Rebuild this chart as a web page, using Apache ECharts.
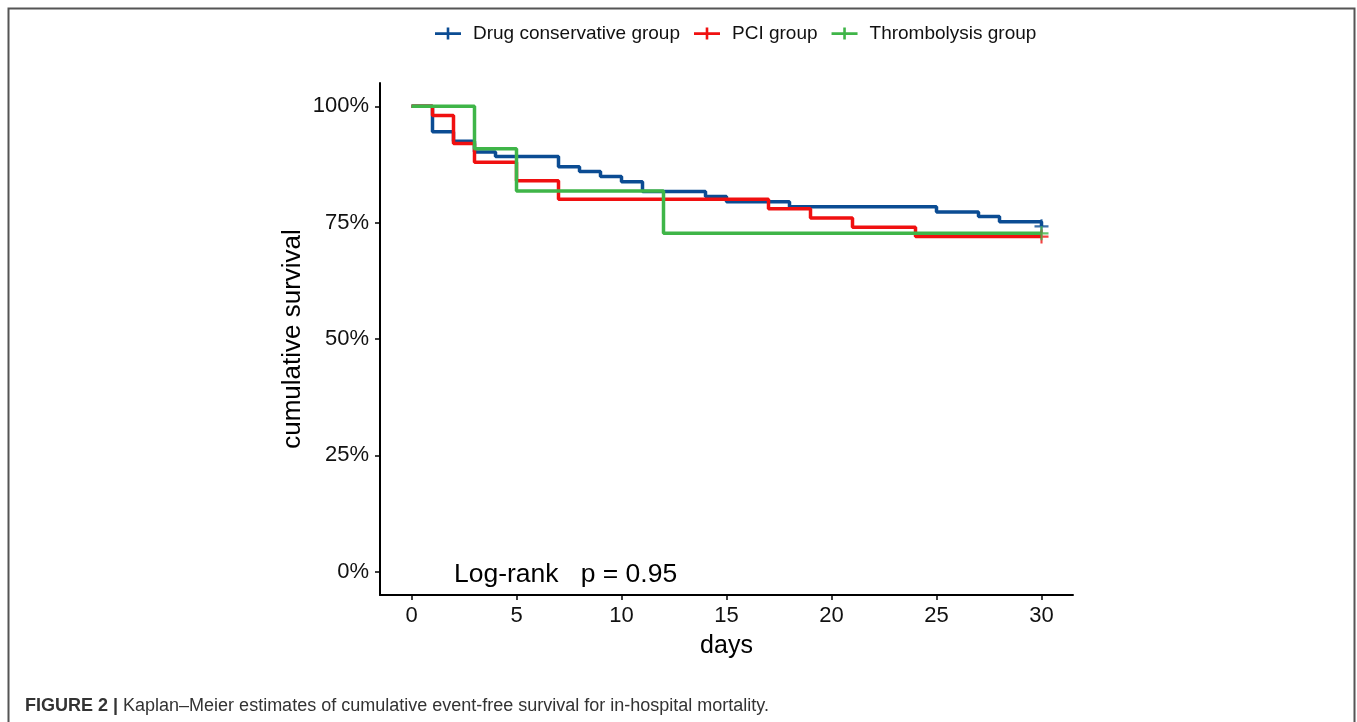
<!DOCTYPE html>
<html>
<head>
<meta charset="utf-8">
<script src="https://cdn.jsdelivr.net/npm/echarts@6/dist/echarts.min.js"></script>
<style>
  html, body { margin: 0; padding: 0; background: #fff; }
  #main { width: 1357px; height: 722px; }
</style>
</head>
<body>
<div id="main"></div>
<script>
// step data: [day, survival %]
const drugData = [
  [0, 100], [1, 94.5], [2, 92.5], [3, 90.2], [4, 89.2], [7, 87.0], [8, 86.0],
  [9, 84.9], [10, 83.8], [11, 81.7], [14, 80.6], [15, 79.5], [18, 78.4],
  [25, 77.3], [27, 76.3], [28, 75.2], [30, 74.2]
];
const pciData = [
  [0, 100], [1, 98], [2, 92], [3, 88], [5, 84], [7, 80], [17, 78], [19, 76],
  [21, 74], [24, 72], [30, 72]
];
const thrombData = [
  [0, 100], [3, 90.9], [5, 81.8], [12, 72.7], [30, 72.7]
];
// censor marks at the end of follow-up
const drugCensor = [[30, 74.2]];
const pciCensor = [[30, 72]];
const thrombCensor = [[30, 72.7]];

const groupNames = ['Drug conservative group', 'PCI group', 'Thrombolysis group'];
const colors = ['#0B4C93', '#F01010', '#3FB548'];
const yTicks = [0, 25, 50, 75, 100];
const xTicks = [0, 5, 10, 15, 20, 25, 30];

const crossSymbol = 'path://M8.5,0h3v20h-3zM0,8.5h20v3h-20z';
const legendIcon = 'path://M0,4.8h26v2.6h-26zM11.7,0h2.6v12h-2.6z';
const fontFam = '"Liberation Sans", Arial, sans-serif';

const myChart = echarts.init(document.getElementById('main'));

const stepSeries = (name, data, color) => ({
  name: name,
  type: 'line',
  step: 'end',
  symbol: 'none',
  color: color,
  lineStyle: { width: 3.5, color: color },
  data: data,
  z: 2,
});

const censorSeries = (name, data, color) => ({
  name: name,
  type: 'scatter',
  symbol: crossSymbol,
  symbolSize: 14,
  itemStyle: { color: color },
  data: data,
  z: 3,
});

const option = {
  animation: false,
  grid: { left: 380, right: 284, top: 83, bottom: 127 },
  legend: {
    top: 19,
    left: 430,
    itemWidth: 26,
    itemHeight: 12,
    itemGap: 14,
    textStyle: { fontFamily: fontFam, fontSize: 19, color: '#111', padding: [0, 0, 0, 7] },
    data: groupNames.map((n, i) => ({ name: n, icon: legendIcon, itemStyle: { color: colors[i] } })),
  },
  xAxis: {
    type: 'value',
    min: -1.5,
    max: 31.5,
    name: 'days',
    nameLocation: 'middle',
    nameGap: 39,
    nameMoveOverlap: false,
    nameTextStyle: { fontFamily: fontFam, fontSize: 25, color: '#000' },
    axisLine: { onZero: false, lineStyle: { color: '#000', width: 2 } },
    axisTick: { length: 5, lineStyle: { color: '#000', width: 1.5 }, customValues: xTicks },
    axisLabel: {
      customValues: xTicks,
      fontFamily: fontFam, fontSize: 22, color: '#111', margin: 10,
    },
    splitLine: { show: false },
  },
  yAxis: {
    type: 'value',
    min: -5,
    max: 105,
    name: 'cumulative survival',
    nameLocation: 'middle',
    nameGap: 74,
    nameMoveOverlap: false,
    nameTextStyle: { fontFamily: fontFam, fontSize: 26, color: '#000' },
    axisLine: { show: true, onZero: false, lineStyle: { color: '#000', width: 2 } },
    axisTick: { show: true, length: 5, lineStyle: { color: '#000', width: 1.5 }, customValues: yTicks },
    axisLabel: {
      customValues: yTicks,
      formatter: (v) => v + '%',
      fontFamily: fontFam, fontSize: 22, color: '#111', margin: 11,
    },
    splitLine: { show: false },
  },
  series: [
    stepSeries(groupNames[0], drugData, colors[0]),
    stepSeries(groupNames[1], pciData, colors[1]),
    stepSeries(groupNames[2], thrombData, colors[2]),
    censorSeries(groupNames[0], drugCensor, colors[0]),
    censorSeries(groupNames[1], pciCensor, colors[1]),
    censorSeries(groupNames[2], thrombCensor, colors[2]),
  ],
  graphic: [
    {
      type: 'rect',
      shape: { x: 8.5, y: 8.5, width: 1346, height: 760 },
      style: { fill: 'none', stroke: '#555', lineWidth: 2 },
      silent: true,
    },
    {
      type: 'text',
      left: 454,
      top: 561,
      style: { text: 'Log-rank   p = 0.95', font: '26.5px ' + fontFam, fill: '#000' },
    },
    {
      type: 'text',
      left: 25,
      top: 697,
      style: {
        text: '{b|FIGURE 2 |} Kaplan–Meier estimates of cumulative event-free survival for in-hospital mortality.',
        font: '18px ' + fontFam,
        fill: '#333',
        rich: {
          b: { fontWeight: 'bold', fontSize: 18, fill: '#333', fontFamily: fontFam },
        },
      },
    },
  ],
};

myChart.setOption(option);
</script>
</body>
</html>
